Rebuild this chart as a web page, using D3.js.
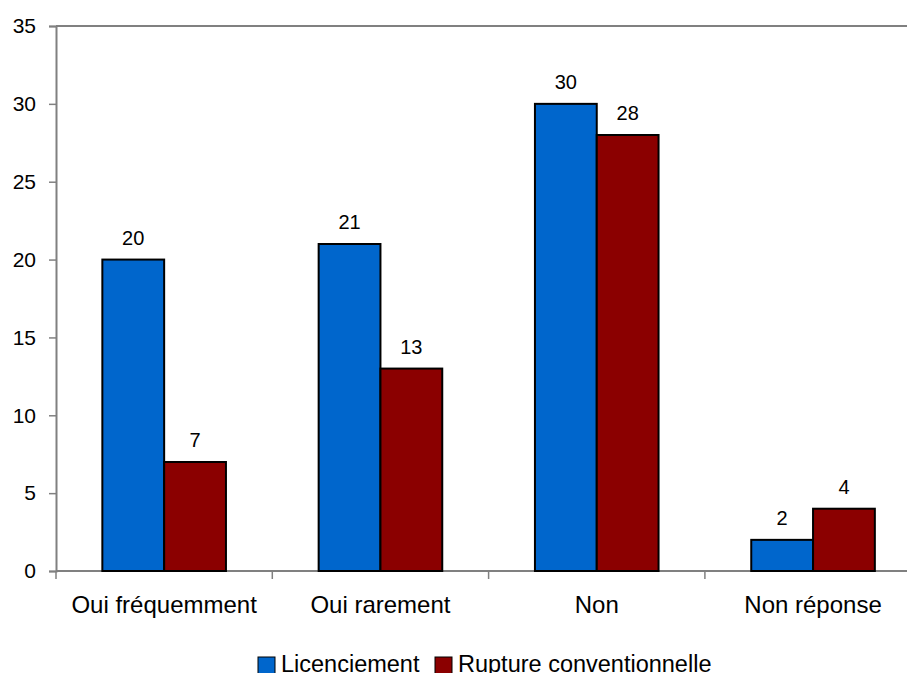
<!DOCTYPE html>
<html>
<head>
<meta charset="utf-8">
<script src="https://cdn.jsdelivr.net/npm/d3@7"></script>
<style>
  html, body { margin: 0; padding: 0; background: #fff; }
  svg { display: block; font-family: "Liberation Sans", Arial, sans-serif; }
</style>
</head>
<body>
<svg id="chart" width="907" height="673"></svg>
<script>
// Chart data
const categories = ["Oui fréquemment", "Oui rarement", "Non", "Non réponse"];
const seriesNames = ["Licenciement", "Rupture conventionnelle"];
const licenciement = [20, 21, 30, 2];
const rupture = [7, 13, 28, 4];
const yTicks = [0, 5, 10, 15, 20, 25, 30, 35];
const seriesColors = ["#0066cc", "#8b0000"];

(function draw() {
  const svg = d3.select("#chart");

  // Plot area (right side extends beyond the visible window)
  const plotLeft = 56, plotTop = 26, plotBottom = 571;
  const band = 216.3;
  const plotRight = plotLeft + band * categories.length;

  const x = d3.scaleBand()
    .domain(categories)
    .range([plotLeft, plotRight])
    .paddingInner(0)
    .paddingOuter(0);

  const y = d3.scaleLinear().domain([0, 35]).range([plotBottom, plotTop]);

  // Inner grouping: two bars with a 150% gap width
  const barW = band / (2 + 1.5);
  const x1 = d3.scaleBand()
    .domain(seriesNames)
    .range([0, barW * 2]);

  const axisColor = "#808080";

  // Top border of the plot area
  svg.append("line")
    .attr("x1", plotLeft).attr("x2", plotRight)
    .attr("y1", y(35)).attr("y2", y(35))
    .attr("stroke", axisColor).attr("stroke-width", 2);

  // Y axis
  const yAxis = d3.axisLeft(y).tickValues(yTicks).tickSize(7).tickPadding(13);
  const gy = svg.append("g").attr("transform", `translate(${plotLeft},0)`).call(yAxis);
  gy.select(".domain").attr("stroke", axisColor).attr("stroke-width", 2);
  gy.selectAll(".tick line").attr("stroke", axisColor).attr("stroke-width", 1.5);
  gy.selectAll(".tick text")
    .attr("fill", "#000")
    .style("font-size", "21px")
    .style("font-family", "Liberation Sans, Arial, sans-serif");

  // X axis with ticks between categories
  const gx = svg.append("g").attr("transform", `translate(0,${plotBottom})`);
  gx.append("line")
    .attr("x1", plotLeft).attr("x2", plotRight)
    .attr("stroke", axisColor).attr("stroke-width", 2);
  const boundaries = d3.range(categories.length + 1).map(i => plotLeft + i * band);
  gx.selectAll("line.tk").data(boundaries).join("line")
    .attr("class", "tk")
    .attr("x1", d => d).attr("x2", d => d)
    .attr("y1", 0).attr("y2", 8)
    .attr("stroke", axisColor).attr("stroke-width", 1.5);
  gx.selectAll("text.cat").data(categories).join("text")
    .attr("class", "cat")
    .attr("x", d => x(d) + x.bandwidth() / 2)
    .attr("y", 42)
    .attr("text-anchor", "middle")
    .style("font-size", "24px")
    .text(d => d);

  // Bars
  const rows = categories.map((c, i) => ({
    cat: c,
    vals: [
      { s: seriesNames[0], v: licenciement[i], color: seriesColors[0] },
      { s: seriesNames[1], v: rupture[i], color: seriesColors[1] }
    ]
  }));

  const groups = svg.selectAll("g.grp").data(rows).join("g")
    .attr("class", "grp")
    .attr("transform", d => `translate(${x(d.cat) + (band - barW * 2) / 2},0)`);

  groups.selectAll("rect").data(d => d.vals).join("rect")
    .attr("x", d => x1(d.s))
    .attr("y", d => y(d.v))
    .attr("width", x1.bandwidth())
    .attr("height", d => y(0) - y(d.v))
    .attr("fill", d => d.color)
    .attr("stroke", "#000")
    .attr("stroke-width", 2);

  groups.selectAll("text").data(d => d.vals).join("text")
    .attr("x", d => x1(d.s) + x1.bandwidth() / 2)
    .attr("y", d => y(d.v) - 15)
    .attr("text-anchor", "middle")
    .style("font-size", "20px")
    .text(d => d.v);

  // Legend
  const legend = svg.append("g");
  const legendItems = [
    { name: seriesNames[0], color: seriesColors[0], x: 258 },
    { name: seriesNames[1], color: seriesColors[1], x: 435 }
  ];
  legendItems.forEach(it => {
    legend.append("rect")
      .attr("x", it.x).attr("y", 657)
      .attr("width", 17).attr("height", 17)
      .attr("fill", it.color)
      .attr("stroke", "#000").attr("stroke-width", 1);
    legend.append("text")
      .attr("x", it.x + 23).attr("y", 672)
      .style("font-size", "23.5px")
      .text(it.name);
  });
})();
</script>
</body>
</html>
